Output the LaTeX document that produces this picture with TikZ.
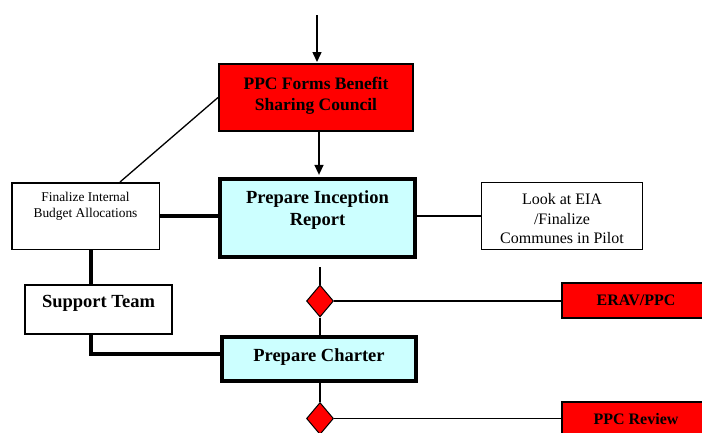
\documentclass[tikz,border=0pt]{standalone}
\usepackage{fontspec}
\setmainfont{Liberation Serif}
\usetikzlibrary{shapes.geometric,arrows.meta}
\definecolor{alarm}{RGB}{255,0,0}
\definecolor{pale}{RGB}{204,255,255}
% box text hung from the top edge: width, height, top padding, lines
\newcommand\topbox[4]{\parbox[c][#2][t]{#1}{\vspace*{#3}\centering #4\par}}
\tikzset{
  flowbox/.style={draw, rectangle, inner sep=0pt},
  councilbox/.style={flowbox, line width=2pt, fill=alarm,
    font=\fontsize{17.5}{21}\selectfont\bfseries},
  stagebox/.style={flowbox, line width=4.3pt, fill=pale,
    font=\fontsize{18.5}{22}\selectfont\bfseries},
  notebox/.style={flowbox, line width=1.5pt, fill=white},
  tagbox/.style={flowbox, line width=1.3pt, fill=alarm,
    minimum width=148pt, minimum height=35pt,
    font=\fontsize{16}{19}\selectfont\bfseries},
  gate/.style={diamond, draw, line width=1pt, fill=alarm, inner sep=0pt,
    minimum width=27pt, minimum height=32pt},
  thinlink/.style={line width=1.3pt},
  heavylink/.style={line width=4.3pt},
  flowarrow/.style={line width=1.5pt, -{Triangle[length=10pt,width=9pt]}}
}
\begin{document}
\begin{tikzpicture}[x=1pt,y=-1pt]
\clip (0,0) rectangle (702,432);
\fill[white] (0,0) rectangle (702,432);

% main stages
\node[councilbox] (ppc) at (316,97.5)
  {\topbox{194pt}{67pt}{13pt}{PPC Forms Benefit\\Sharing Council}};
\node[stagebox] (inc) at (317.5,218)
  {\topbox{195pt}{78pt}{11.5pt}{Prepare Inception\\Report}};
\node[stagebox] (cha) at (319,359)
  {\topbox{194pt}{44pt}{11.5pt}{Prepare Charter}};

% side notes
\node[notebox, font=\fontsize{13.4}{16.5}\selectfont] (fin) at (85.5,216)
  {\topbox{147.5pt}{66.5pt}{9.3pt}{Finalize Internal\\Budget Allocations}};
\node[notebox, line width=1.8pt, font=\fontsize{18.5}{22}\selectfont\bfseries] (sup) at (98.5,309.5)
  {\topbox{147pt}{49pt}{10.5pt}{Support Team}};
\node[notebox, line width=1.3pt, font=\fontsize{16}{19.5}\selectfont] (eia) at (562,216)
  {\topbox{161pt}{67pt}{11pt}{Look at EIA\\/Finalize\\Communes in Pilot}};

% decision points and their reviewers
\node[gate] (d1) at (320,301) {};
\node[gate] (d2) at (320,418.5) {};
\node[tagbox] (erav) at (636,300.5) {ERAV/PPC};
\node[tagbox] (rev) at (636,419.5) {PPC Review};

% connectors
\coordinate (feed) at (317,15);
\coordinate (drop) at (320,267);
\draw[flowarrow] (feed) -- ([yshift=1pt]feed |- ppc.north);
\draw[flowarrow] ([xshift=3pt]ppc.south) -- ([xshift=3pt,yshift=2pt]ppc.south |- inc.north);
\draw[thinlink] ([xshift=34.5pt]fin.north) -- (ppc.west);
\draw[heavylink] (fin.east) -- (fin.east -| inc.west);
\draw[thinlink] (inc.east |- eia.west) -- (eia.west);
\draw[heavylink] ([xshift=5.5pt]fin.south) -- ([xshift=5.5pt]fin.south |- sup.north);
\draw[heavylink] ([xshift=-7.5pt]sup.south) |- ([yshift=5pt]cha.west);
\draw[thinlink] (drop) -- (d1.north);
\draw[thinlink] (d1.south) -- (d1.south |- cha.north);
\draw[thinlink] (d1.east) -- (d1.east -| erav.west);
\draw[thinlink] (d2 |- cha.south) -- (d2.north);
\draw[thinlink] (d2.east) -- (d2.east -| rev.west);
\end{tikzpicture}
\end{document}
